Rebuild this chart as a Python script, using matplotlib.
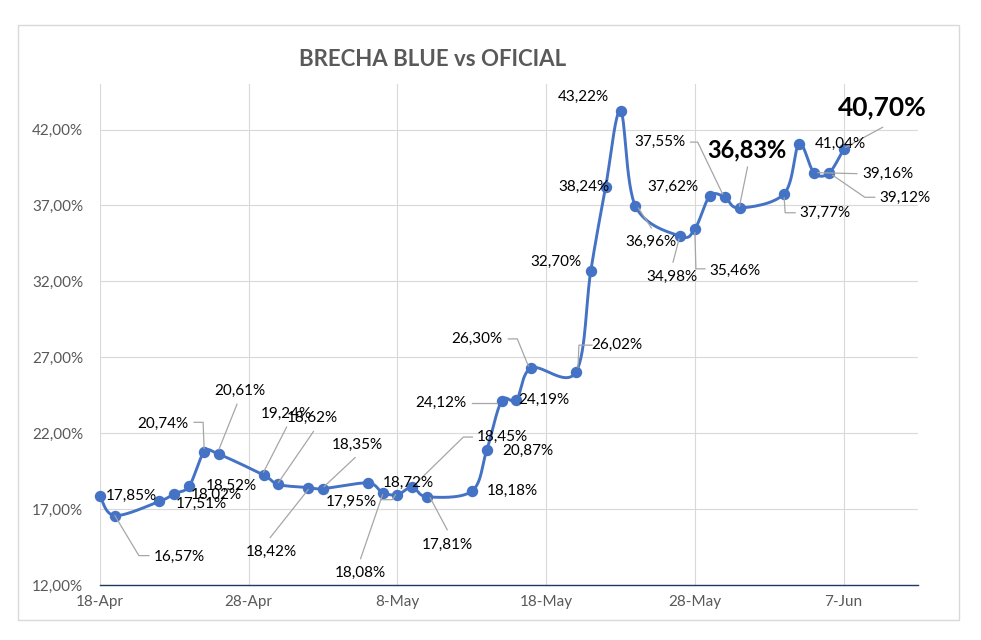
import numpy as np
import matplotlib
matplotlib.use("Agg")
import matplotlib.pyplot as plt
import matplotlib.dates as mdates
from matplotlib.patches import Rectangle
import datetime as dt

# ---------------- data ----------------
dates = ["2024-04-18", "2024-04-19", "2024-04-22", "2024-04-23", "2024-04-24",
         "2024-04-25", "2024-04-26", "2024-04-29", "2024-04-30", "2024-05-02",
         "2024-05-03", "2024-05-06", "2024-05-07", "2024-05-08", "2024-05-09",
         "2024-05-10", "2024-05-13", "2024-05-14", "2024-05-15", "2024-05-16",
         "2024-05-17", "2024-05-20", "2024-05-21", "2024-05-22", "2024-05-23",
         "2024-05-24", "2024-05-27", "2024-05-28", "2024-05-29", "2024-05-30",
         "2024-05-31", "2024-06-03", "2024-06-04", "2024-06-05", "2024-06-06",
         "2024-06-07"]
brecha = [17.85, 16.57, 17.51, 18.02, 18.52, 20.74, 20.61, 19.24, 18.62, 18.42,
          18.35, 18.72, 18.08, 17.95, 18.45, 17.81, 18.18, 20.87, 24.12, 24.19,
          26.30, 26.02, 32.70, 38.24, 43.22, 36.96, 34.98, 35.46, 37.62, 37.55,
          36.83, 37.77, 41.04, 39.16, 39.12, 40.70]
title = "BRECHA BLUE vs OFICIAL"
x_tick_dates = ["2024-04-18", "2024-04-28", "2024-05-08", "2024-05-18",
                "2024-05-28", "2024-06-07"]
x_tick_labels = ["18-Apr", "28-Apr", "8-May", "18-May", "28-May", "7-Jun"]
y_ticks = [12, 17, 22, 27, 32, 37, 42]
y_tick_labels = ["12,00%", "17,00%", "22,00%", "27,00%", "32,00%", "37,00%", "42,00%"]

# ---------------- label layout (pixel offsets, image coords: +x right, +y down) ----
# (label dx, label dy, leader waypoints or None)
label_layout = [
    (31, 0, None),
    (64, 41, [(0, 0), (24, 40), (34, 40)]),
    (42, 3, None),
    (42, 1, None),
    (42, 0, None),
    (-41, -28, [(0, -4), (-1, -30), (-10, -30)]),
    (21, -63, [(0, -5), (18, -50)]),
    (23, -61, [(0, -3), (23, -48)]),
    (34, -67, [(0, -2), (35, -53)]),
    (-37, 64, [(0, 2), (-38, 50)]),
    (34, -44, [(1, -2), (32, -31)]),
    (41, 0, None),
    (-22, 80, [(0, 2), (-22, 66)]),
    (-46, 7, [(-2, 0), (-5, 5), (-17, 5)]),
    (90, -50, [(5, -5), (51, -50), (60, -50)]),
    (20, 48, [(3, 1), (20, 33)]),
    (41, 0, None),
    (41, 1, None),
    (-61, 2, [(-5, 2), (-30, 2)]),
    (27, 0, None),
    (-54, -29, [(-3, -2), (-14, -29), (-23, -29)]),
    (41, -27, [(2, -5), (3, -27), (16, -27)]),
    (-35, -9, None),
    (-22, 0, None),
    (-37, -14, None),
    (16, 36, [(3, 2), (16, 22)]),
    (-8, 41, [(-1, 3), (-7, 26)]),
    (40, 42, [(0, 4), (1, 40), (10, 40)]),
    (-37, -9, None),
    (-65, -55, [(-2, -3), (-27, -55), (-34, -55)]),
    (7, -58, [(0, -2), (8, -41)]),
    (41, 19, [(0, 4), (1, 19), (11, 19)]),
    (41, 0, None),
    (74, 1, [(4, 0), (43, 1)]),
    (76, 25, [(4, 2), (36, 24), (46, 24)]),
    (39, -42, [(2, -2), (39, -22)]),
]
big_labels = {30: 17, 35: 19}

# ---------------- figure ----------------
W, H, DPI = 981, 640, 100
fig = plt.figure(figsize=(W / DPI, H / DPI), dpi=DPI)
fig.patch.set_facecolor("white")
FONT = "Lato"
GRAY = "#595959"
LABEL_FS = 11

# outer chart border
fig.add_artist(Rectangle((18 / W, 1 - 620 / H), (959 - 18) / W, (620 - 25) / H,
                         transform=fig.transFigure, fill=False,
                         edgecolor="#D9D9D9", linewidth=1.0))

ax = fig.add_axes([100 / W, 1 - 585 / H, 818 / W, (585 - 84) / H])

xd = np.array([mdates.date2num(dt.datetime.fromisoformat(d)) for d in dates])
yv = np.array(brecha)

# Catmull-Rom (Excel-like smoothing) in data space
px = np.concatenate([[xd[0]], xd, [xd[-1]]])
py = np.concatenate([[yv[0]], yv, [yv[-1]]])
sx, sy = [], []
t = np.linspace(0, 1, 30)
for i in range(1, len(px) - 2):
    p0 = np.array([px[i - 1], py[i - 1]]); p1 = np.array([px[i], py[i]])
    p2 = np.array([px[i + 1], py[i + 1]]); p3 = np.array([px[i + 2], py[i + 2]])
    c1 = p1 + (p2 - p0) / 6.0
    c2 = p2 - (p3 - p1) / 6.0
    b = ((1 - t) ** 3)[:, None] * p1 + (3 * (1 - t) ** 2 * t)[:, None] * c1 + \
        (3 * (1 - t) * t ** 2)[:, None] * c2 + (t ** 3)[:, None] * p2
    sx.extend(b[:, 0]); sy.extend(b[:, 1])

ax.plot(sx, sy, color="#4472C4", linewidth=2.1, zorder=3,
        solid_capstyle="round", clip_on=False)
ax.plot(xd, yv, linestyle="none", marker="o", markersize=7.2,
        color="#4472C4", zorder=4, clip_on=False)

x0 = mdates.date2num(dt.datetime(2024, 4, 18))
x1 = mdates.date2num(dt.datetime(2024, 6, 12))
ax.set_xlim(x0, x1)
ax.set_ylim(12, 45)

xt = [mdates.date2num(dt.datetime.fromisoformat(d)) for d in x_tick_dates]
ax.set_xticks(xt)
ax.set_xticklabels(x_tick_labels, fontfamily=FONT, fontsize=LABEL_FS, color=GRAY)
ax.set_yticks(y_ticks)
ax.set_yticklabels(y_tick_labels, fontfamily=FONT, fontsize=LABEL_FS, color=GRAY)
ax.tick_params(axis="both", length=0)
ax.tick_params(axis="x", pad=7)
ax.tick_params(axis="y", pad=12)

ax.grid(True, color="#D9D9D9", linewidth=0.8, zorder=0)
ax.set_axisbelow(True)
for s in ["top", "right", "left"]:
    ax.spines[s].set_visible(False)
ax.spines["bottom"].set_color("#203864")
ax.spines["bottom"].set_linewidth(1.0)
ax.spines["bottom"].set_zorder(2)

fig.text(433 / W, 1 - 60 / H, title, ha="center", va="center",
         fontfamily=FONT, fontweight="bold", fontsize=16, color=GRAY)

# data labels with leader lines
fig.canvas.draw()
disp = ax.transData.transform(np.column_stack([xd, yv]))
for i, (v, (dx, dy, leader)) in enumerate(zip(brecha, label_layout)):
    X, Y = disp[i]
    txt = f"{v:.2f}%".replace(".", ",")
    if i in big_labels:
        fig.text((X + dx) / W, (Y - dy) / H, txt, ha="center", va="center",
                 fontfamily=FONT, fontweight="bold", fontsize=big_labels[i],
                 color="black", zorder=6)
    else:
        fig.text((X + dx) / W, (Y - dy) / H, txt, ha="center", va="center",
                 fontfamily=FONT, fontsize=LABEL_FS, color="black", zorder=6)
    if leader is not None:
        lx = [(X + a) / W for a, b in leader]
        ly = [(Y - b) / H for a, b in leader]
        fig.add_artist(plt.Line2D(lx, ly, transform=fig.transFigure,
                                  color="#A6A6A6", linewidth=0.9, zorder=5))

fig.savefig("out.png", dpi=DPI)
